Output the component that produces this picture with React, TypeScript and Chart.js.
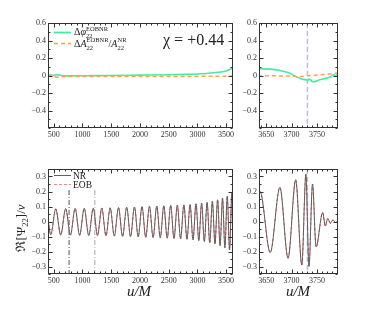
import React, { useEffect, useRef } from 'react';
import { Chart, registerables } from 'chart.js';

Chart.register(...registerables);

const SERIF = "'Liberation Serif', 'DejaVu Serif', 'Times New Roman', serif";
const W = 374;
const H = 309;
const YW = 45;
const XH = 30;
const INK = '#333333';

// ---------- data ----------
// Phase difference (top panels)
const PHI_U = [400, 450, 500, 530, 560, 600, 700, 1000, 1500, 2000, 2500, 2800, 3000, 3200, 3400, 3500, 3620, 3636, 3658, 3677, 3693, 3706, 3719, 3728, 3731, 3734, 3742, 3755, 3768, 3778, 3782, 3786, 3791];
const PHI_V = [0.015, 0.005, 0.0, 0.006, 0.01, 0.004, -0.004, -0.002, 0.0, 0.004, 0.008, 0.013, 0.018, 0.026, 0.04, 0.052, 0.08, 0.077, 0.073, 0.057, 0.034, -0.004, -0.04, -0.049, -0.06, -0.04, -0.072, -0.049, -0.03, -0.011, 0.008, -0.004, 0.02];
// Relative amplitude difference (top panels)
const AMP_U = [400, 450, 520, 560, 650, 1000, 2000, 3000, 3620, 3636, 3700, 3715, 3731, 3760, 3791];
const AMP_V = [0.01, 0.0, -0.018, -0.02, -0.014, -0.012, -0.012, -0.01, -0.006, -0.004, -0.006, -0.014, -0.002, 0.008, 0.03];
// Waveform extrema (bottom panels)
const WAVE_U = [400, 448, 535, 621, 708, 790, 872, 951, 1030, 1109, 1188, 1262, 1336, 1409, 1482, 1554, 1627, 1698, 1770, 1837, 1905, 1970, 2036, 2101, 2166, 2229, 2293, 2354, 2416, 2475, 2535, 2593, 2651, 2708, 2765, 2819, 2873, 2924, 2976, 3025, 3074, 3121, 3169, 3215, 3261, 3306, 3352, 3395, 3438, 3479, 3520, 3560, 3600, 3620, 3638, 3658, 3677, 3693, 3708, 3720, 3728, 3734, 3741, 3748, 3761, 3766, 3771, 3776, 3781, 3786, 3792];
const WAVE_NR = [0.01, -0.088, 0.084, -0.09, 0.086, -0.091, 0.087, -0.092, 0.088, -0.093, 0.089, -0.094, 0.09, -0.095, 0.091, -0.097, 0.093, -0.099, 0.095, -0.101, 0.097, -0.103, 0.099, -0.105, 0.101, -0.107, 0.103, -0.109, 0.105, -0.111, 0.107, -0.113, 0.109, -0.116, 0.111, -0.119, 0.114, -0.123, 0.118, -0.128, 0.123, -0.134, 0.128, -0.141, 0.135, -0.15, 0.145, -0.161, 0.156, -0.175, 0.17, -0.19, 0.19, -0.2, 0.2, -0.207, 0.227, -0.245, 0.278, -0.29, 0.315, -0.3, 0.25, -0.17, 0.06, -0.03, 0.02, -0.012, 0.01, -0.006, 0.0];
const WAVE_EOB = WAVE_NR;

const MERGER_U = 3731;
const MATCH_U = [767, 1215];
const MATCH_FROM = 0.21;

const X_TICKS_LEFT = [500, 1000, 1500, 2000, 2500, 3000, 3500];
const X_TICKS_RIGHT = [3650, 3700, 3750];
const Y_TICKS_TOP = [-0.4, -0.2, 0, 0.2, 0.4, 0.6];
const Y_TICKS_BOTTOM = [-0.3, -0.2, -0.1, 0, 0.1, 0.2, 0.3];

const CHI_LABEL = 'χ = +0.44';

// ---------- colours ----------
const GREEN = '#45eaa5';
const ORANGE = '#ffa14a';
const NR_COLOR = '#5f5f5f';
const EOB_COLOR = '#ff5c5c';
const BLUE = 'rgba(160,170,255,0.8)';

const pts = (u: number[], v: number[]) => u.map((x, i) => ({ x, y: v[i] }));

type Part = { t: string; size: number; italic?: boolean } | { sup: string; sub: string; size: number; supDy: number; subDy: number };

const fontStr = (size: number, italic?: boolean) => `${italic ? 'italic ' : ''}${size}px ${SERIF}`;

function measureRich(ctx: CanvasRenderingContext2D, parts: Part[]) {
  let w = 0;
  for (const p of parts) {
    if ('sup' in p) {
      ctx.font = fontStr(p.size);
      w += Math.max(ctx.measureText(p.sup).width, ctx.measureText(p.sub).width);
    } else {
      ctx.font = fontStr(p.size, p.italic);
      w += ctx.measureText(p.t).width;
    }
  }
  return w;
}

function drawRich(ctx: CanvasRenderingContext2D, x: number, y: number, parts: Part[], color = '#222') {
  ctx.fillStyle = color;
  ctx.textAlign = 'left';
  ctx.textBaseline = 'alphabetic';
  let cx = x;
  for (const p of parts) {
    if ('sup' in p) {
      ctx.font = fontStr(p.size);
      if (p.sup) ctx.fillText(p.sup, cx, y + p.supDy);
      if (p.sub) ctx.fillText(p.sub, cx, y + p.subDy);
      cx += Math.max(ctx.measureText(p.sup).width, ctx.measureText(p.sub).width);
    } else {
      ctx.font = fontStr(p.size, p.italic);
      ctx.fillText(p.t, cx, y);
      cx += ctx.measureText(p.t).width;
    }
  }
}

function legendLine(ctx: CanvasRenderingContext2D, y: number, color: string, dash: number[], width: number) {
  ctx.save();
  ctx.strokeStyle = color;
  ctx.lineWidth = width;
  ctx.setLineDash(dash);
  ctx.beginPath();
  ctx.moveTo(54, y);
  ctx.lineTo(71, y);
  ctx.stroke();
  ctx.restore();
}

type VLine = { u: number; from?: number; color: string; dash: number[]; width: number };
type Panel = {
  L: number; R: number; T: number; B: number;
  xMin: number; xMax: number; xTicks: number[]; xMinor: number;
  yMin: number; yMax: number; yTicks: number[]; yMinor: number;
  datasets: any[];
  vlines: VLine[];
  extra?: (ctx: CanvasRenderingContext2D) => void;
};

function makeDecor(p: Panel, key: number) {
  return {
    id: 'decor' + key,
    beforeDatasetsDraw(chart: any) {
      const ctx: CanvasRenderingContext2D = chart.ctx;
      const a = chart.chartArea;
      const xs = chart.scales.x;
      const ys = chart.scales.y;
      for (const v of p.vlines) {
        const px = xs.getPixelForValue(v.u);
        const y0 = v.from !== undefined ? ys.getPixelForValue(v.from) : a.top;
        ctx.save();
        ctx.strokeStyle = v.color;
        ctx.lineWidth = v.width;
        ctx.setLineDash(v.dash);
        ctx.beginPath();
        ctx.moveTo(px, y0);
        ctx.lineTo(px, a.bottom);
        ctx.stroke();
        ctx.restore();
      }
    },
    afterDraw(chart: any) {
      const ctx: CanvasRenderingContext2D = chart.ctx;
      const a = chart.chartArea;
      const xs = chart.scales.x;
      const ys = chart.scales.y;
      ctx.save();
      const l = Math.round(a.left) + 0.5;
      const r = Math.round(a.right) - 0.5;
      const t = Math.round(a.top) + 0.5;
      const b = Math.round(a.bottom) - 0.5;
      ctx.strokeStyle = INK;
      ctx.lineWidth = 1;
      ctx.strokeRect(l, t, r - l, b - t);
      ctx.beginPath();
      const k0 = Math.ceil(xs.min / p.xMinor - 1e-9);
      for (let k = k0; k * p.xMinor <= xs.max + 1e-9; k++) {
        const v = k * p.xMinor;
        const major = p.xTicks.some((m) => Math.abs(m - v) < p.xMinor * 1e-3);
        const len = major ? 4 : 2;
        const px = Math.round(xs.getPixelForValue(v)) + 0.5;
        ctx.moveTo(px, b); ctx.lineTo(px, b - len);
        ctx.moveTo(px, t); ctx.lineTo(px, t + len);
      }
      const j0 = Math.ceil(ys.min / p.yMinor - 1e-9);
      for (let k = j0; k * p.yMinor <= ys.max + 1e-9; k++) {
        const v = k * p.yMinor;
        const major = p.yTicks.some((m) => Math.abs(m - v) < p.yMinor * 1e-3);
        const len = major ? 4 : 2;
        const py = Math.round(ys.getPixelForValue(v)) + 0.5;
        ctx.moveTo(l, py); ctx.lineTo(l + len, py);
        ctx.moveTo(r, py); ctx.lineTo(r - len, py);
      }
      ctx.stroke();
      if (p.extra) p.extra(ctx);
      ctx.restore();
    },
  };
}

const fmt = (v: number) => (v === 0 ? '0' : v < 0 ? '\u2212' + String(-v) : String(v));

function buildConfig(p: Panel, key: number): any {
  const tickFont = { family: SERIF, size: 8 };
  return {
    type: 'line',
    data: { datasets: p.datasets },
    options: {
      responsive: false,
      animation: false,
      events: [],
      layout: { padding: { left: p.L - YW, right: W - p.R, top: p.T, bottom: H - p.B - XH } },
      plugins: { legend: { display: false }, tooltip: { enabled: false } },
      elements: { point: { radius: 0 }, line: { cubicInterpolationMode: 'monotone' } },
      scales: {
        x: {
          type: 'linear', min: p.xMin, max: p.xMax,
          grid: { display: false, drawTicks: false }, border: { display: false },
          afterBuildTicks: (s: any) => { s.ticks = p.xTicks.map((v) => ({ value: v })); },
          afterFit: (s: any) => { s.height = XH; },
          ticks: { font: tickFont, color: INK, padding: 2, autoSkip: false, maxRotation: 0, callback: (v: number) => fmt(v) },
        },
        y: {
          type: 'linear', min: p.yMin, max: p.yMax,
          grid: { display: false, drawTicks: false }, border: { display: false },
          afterBuildTicks: (s: any) => { s.ticks = p.yTicks.map((v) => ({ value: v })); },
          afterFit: (s: any) => { s.width = YW; },
          ticks: { font: tickFont, color: INK, padding: 2, autoSkip: false, callback: (v: number) => fmt(v) },
        },
      },
    },
    plugins: [makeDecor(p, key)],
  };
}

const topDatasets = () => [
  { data: pts(AMP_U, AMP_V), borderColor: ORANGE, borderWidth: 1.5, borderDash: [4, 3], fill: false },
  { data: pts(PHI_U, PHI_V), borderColor: GREEN, borderWidth: 1.6, fill: false },
];
const bottomDatasets = () => [
  { data: pts(WAVE_U, WAVE_NR), borderColor: NR_COLOR, borderWidth: 1, fill: false },
  { data: pts(WAVE_U, WAVE_EOB), borderColor: EOB_COLOR, borderWidth: 1, borderDash: [3, 2], fill: false },
];

const drawUM = (ctx: CanvasRenderingContext2D, x: number) => {
  ctx.fillStyle = '#222';
  ctx.font = fontStr(15, true);
  ctx.textAlign = 'center';
  ctx.textBaseline = 'middle';
  ctx.fillText('u/M', x, 292);
};

const PANELS: Panel[] = [
  {
    L: 48, R: 233, T: 23, B: 128,
    xMin: 400, xMax: 3620, xTicks: X_TICKS_LEFT, xMinor: 100,
    yMin: -0.6, yMax: 0.6, yTicks: Y_TICKS_TOP, yMinor: 0.1,
    datasets: topDatasets(), vlines: [],
    extra: (ctx) => {
      legendLine(ctx, 32.5, GREEN, [], 1.8);
      legendLine(ctx, 43.5, ORANGE, [4, 3], 1.5);
      drawRich(ctx, 74, 35, [
        { t: 'Δ', size: 10 }, { t: 'φ', size: 10, italic: true },
        { sup: 'EOBNR', sub: '22', size: 6.5, supDy: -4, subDy: 2.5 },
      ]);
      drawRich(ctx, 74, 46.5, [
        { t: 'Δ', size: 10 }, { t: 'A', size: 10, italic: true },
        { sup: 'EOBNR', sub: '22', size: 6.5, supDy: -4.5, subDy: 3 },
        { t: '/', size: 10 }, { t: 'A', size: 10, italic: true },
        { sup: 'NR', sub: '22', size: 6.5, supDy: -4.5, subDy: 3 },
      ]);
      ctx.fillStyle = '#222';
      ctx.font = fontStr(16);
      ctx.textAlign = 'left';
      ctx.textBaseline = 'middle';
      ctx.fillText(CHI_LABEL, 163, 41);
    },
  },
  {
    L: 259, R: 338, T: 23, B: 128,
    xMin: 3636, xMax: 3791, xTicks: X_TICKS_RIGHT, xMinor: 10,
    yMin: -0.6, yMax: 0.6, yTicks: Y_TICKS_TOP, yMinor: 0.1,
    datasets: topDatasets(),
    vlines: [{ u: MERGER_U, color: BLUE, dash: [5, 3], width: 1.5 }],
  },
  {
    L: 48, R: 233, T: 169, B: 274,
    xMin: 400, xMax: 3620, xTicks: X_TICKS_LEFT, xMinor: 100,
    yMin: -0.35, yMax: 0.35, yTicks: Y_TICKS_BOTTOM, yMinor: 0.05,
    datasets: bottomDatasets(),
    vlines: [
      { u: MATCH_U[0], from: MATCH_FROM, color: '#555555', dash: [5, 2, 1, 2], width: 1 },
      { u: MATCH_U[1], from: MATCH_FROM, color: '#aaaaaa', dash: [5, 2, 1, 2], width: 1 },
    ],
    extra: (ctx) => {
      legendLine(ctx, 175.5, NR_COLOR, [], 1);
      legendLine(ctx, 184.5, '#ff8080', [3, 2], 1.2);
      drawRich(ctx, 73, 179, [{ t: 'NR', size: 9.5 }]);
      drawRich(ctx, 73, 188, [{ t: 'EOB', size: 9.5 }]);
      drawUM(ctx, 139);
      const parts: Part[] = [
        { t: 'ℜ[Ψ', size: 13 },
        { sup: '', sub: '22', size: 8.5, supDy: 0, subDy: 3 },
        { t: ']/', size: 13 }, { t: 'ν', size: 13, italic: true },
      ];
      ctx.save();
      ctx.translate(25, 228);
      ctx.rotate(-Math.PI / 2);
      const w = measureRich(ctx, parts);
      drawRich(ctx, -w / 2, 0, parts);
      ctx.restore();
    },
  },
  {
    L: 259, R: 338, T: 169, B: 274,
    xMin: 3636, xMax: 3791, xTicks: X_TICKS_RIGHT, xMinor: 10,
    yMin: -0.35, yMax: 0.35, yTicks: Y_TICKS_BOTTOM, yMinor: 0.05,
    datasets: bottomDatasets(),
    vlines: [{ u: MERGER_U, color: BLUE, dash: [5, 3], width: 1.5 }],
    extra: (ctx) => drawUM(ctx, 298),
  },
];

export default function App() {
  const r0 = useRef<HTMLCanvasElement>(null);
  const r1 = useRef<HTMLCanvasElement>(null);
  const r2 = useRef<HTMLCanvasElement>(null);
  const r3 = useRef<HTMLCanvasElement>(null);
  const refs = [r0, r1, r2, r3];
  useEffect(() => {
    const charts = PANELS.map((p, i) => new Chart(refs[i].current as HTMLCanvasElement, buildConfig(p, i)));
    return () => charts.forEach((c) => c.destroy());
  }, []);
  return (
    <div style={{ position: 'fixed', left: 0, top: 0, width: W, height: H, background: '#ffffff' }}>
      {refs.map((r, i) => (
        <canvas key={i} ref={r} width={W} height={H} style={{ position: 'absolute', left: 0, top: 0, width: W, height: H }} />
      ))}
    </div>
  );
}
